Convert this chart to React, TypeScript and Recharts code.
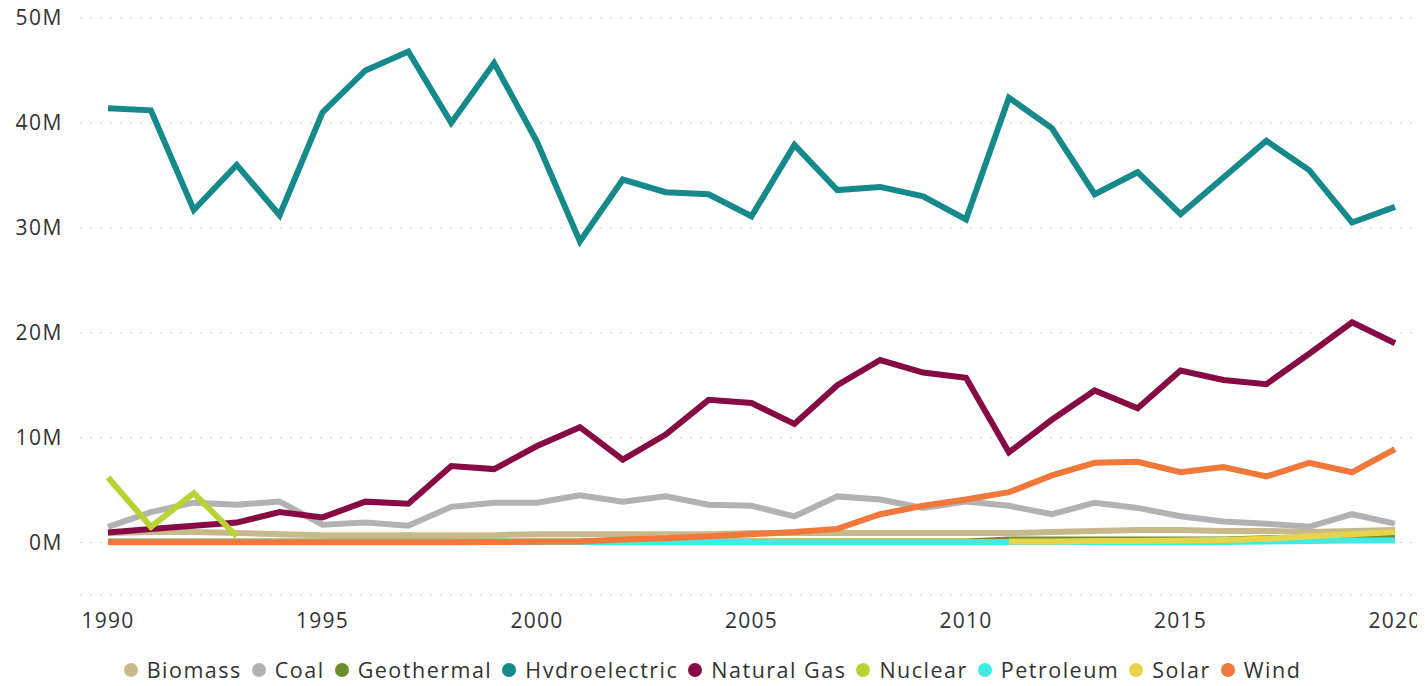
import { LineChart, Line, XAxis, YAxis, CartesianGrid, Legend } from 'recharts';

const years = [
  1990, 1991, 1992, 1993, 1994, 1995, 1996, 1997, 1998, 1999,
  2000, 2001, 2002, 2003, 2004, 2005, 2006, 2007, 2008, 2009,
  2010, 2011, 2012, 2013, 2014, 2015, 2016, 2017, 2018, 2019, 2020,
];

// values in millions
const biomass = [0.9, 1.0, 1.0, 0.9, 0.8, 0.7, 0.7, 0.7, 0.7, 0.7, 0.8, 0.8, 0.8, 0.8, 0.8, 0.9, 0.9, 0.9, 0.9, 0.9, 0.9, 0.9, 1.0, 1.1, 1.2, 1.2, 1.1, 1.1, 1.0, 1.1, 1.2];
const coal = [1.5, 2.9, 3.8, 3.6, 3.9, 1.7, 1.9, 1.6, 3.4, 3.8, 3.8, 4.5, 3.9, 4.4, 3.6, 3.5, 2.5, 4.4, 4.1, 3.3, 3.9, 3.5, 2.7, 3.8, 3.3, 2.5, 2.0, 1.8, 1.5, 2.7, 1.8];
const geothermal = [0.1, 0.1, 0.1, 0.1, 0.1, 0.1, 0.1, 0.1, 0.1, 0.1, 0.1, 0.1, 0.1, 0.1, 0.1, 0.1, 0.1, 0.1, 0.1, 0.1, 0.1, 0.3, 0.3, 0.3, 0.3, 0.3, 0.3, 0.4, 0.4, 0.5, 0.5];
const hydroelectric = [41.4, 41.2, 31.7, 36.0, 31.2, 41.0, 45.0, 46.8, 40.0, 45.7, 38.2, 28.7, 34.6, 33.4, 33.2, 31.1, 37.9, 33.6, 33.9, 33.0, 30.8, 42.4, 39.5, 33.2, 35.3, 31.3, 34.8, 38.3, 35.5, 30.5, 32.0];
const naturalGas = [0.95, 1.3, 1.6, 1.9, 2.9, 2.4, 3.9, 3.7, 7.3, 7.0, 9.2, 11.0, 7.9, 10.3, 13.6, 13.3, 11.3, 15.0, 17.4, 16.2, 15.7, 8.6, 11.7, 14.5, 12.8, 16.4, 15.5, 15.1, 18.0, 21.0, 19.0];
const nuclear = [6.2, 1.5, 4.7, 0.6, null, null, null, null, null, null, null, null, null, null, null, null, null, null, null, null, null, null, null, null, null, null, null, null, null, null, null];
const petroleum = [0.05, 0.05, 0.05, 0.05, 0.05, 0.05, 0.05, 0.05, 0.05, 0.05, 0.05, 0.05, 0.05, 0.05, 0.05, 0.05, 0.05, 0.05, 0.05, 0.05, 0.05, 0.05, 0.05, 0.05, 0.05, 0.05, 0.05, 0.1, 0.15, 0.2, 0.2];
const solar = [null, null, null, null, null, null, null, null, null, null, null, null, null, null, null, null, null, null, null, null, null, 0.1, 0.1, 0.15, 0.15, 0.2, 0.25, 0.35, 0.6, 0.8, 1.0];
const wind = [0.02, 0.02, 0.02, 0.02, 0.02, 0.02, 0.02, 0.02, 0.03, 0.05, 0.08, 0.1, 0.3, 0.4, 0.6, 0.8, 1.0, 1.3, 2.7, 3.5, 4.1, 4.8, 6.4, 7.6, 7.7, 6.7, 7.2, 6.3, 7.6, 6.7, 8.9];

const yTicks = [0, 10, 20, 30, 40, 50];
const xTicks = [1990, 1995, 2000, 2005, 2010, 2015, 2020];

const series = [
  { key: 'Biomass', values: biomass, color: '#C8B98C' },
  { key: 'Coal', values: coal, color: '#B3B2B2' },
  { key: 'Geothermal', values: geothermal, color: '#6C8E2B' },
  { key: 'Hydroelectric', values: hydroelectric, color: '#16898A' },
  { key: 'Natural Gas', values: naturalGas, color: '#860B44' },
  { key: 'Nuclear', values: nuclear, color: '#BAD334' },
  { key: 'Petroleum', values: petroleum, color: '#3FEBE4' },
  { key: 'Solar', values: solar, color: '#E6D54A' },
  { key: 'Wind', values: wind, color: '#F0783A' },
];

const data = years.map((year, i) => {
  const row: Record<string, number | null> = { year };
  series.forEach((s) => { row[s.key] = s.values[i]; });
  return row;
});

const font = '"Open Sans", "Segoe UI", sans-serif';

function LegendBox() {
  return (
    <div style={{ display: 'flex', justifyContent: 'center', paddingTop: 14, paddingLeft: 20, fontFamily: font, fontSize: 21.5, letterSpacing: 1.5, color: '#333', lineHeight: '22px' }}>
      {series.map((s) => (
        <div key={s.key} style={{ display: 'flex', alignItems: 'center', marginRight: 10 }}>
          <span style={{ width: 14, height: 14, borderRadius: 7, background: s.color, marginRight: 9, display: 'inline-block' }} />
          <span>{s.key}</span>
        </div>
      ))}
    </div>
  );
}

export default function App() {
  return (
    <div style={{ margin: -8 }}>
      <LineChart width={1425} height={686} data={data} margin={{ top: 18, right: 10, left: 0, bottom: 0 }}>
        <CartesianGrid vertical={false} stroke="#d4d4d4" strokeDasharray="2 8" />
        <XAxis
          dataKey="year"
          type="number"
          domain={[1990, 2020]}
          ticks={xTicks}
          axisLine={false}
          tickLine={false}
          tickSize={0}
          tickMargin={18}
          height={50}
          padding={{ left: 28, right: 20 }}
          tick={{ fill: '#333', fontSize: 21, fontFamily: font, letterSpacing: 1.2 }}
        />
        <YAxis
          domain={[-5, 50]}
          ticks={yTicks}
          allowDataOverflow
          axisLine={false}
          tickLine={false}
          tickSize={0}
          tickMargin={17}
          width={80}
          tickFormatter={(v) => `${v}M`}
          tick={{ fill: '#333', fontSize: 21, fontFamily: font, letterSpacing: 1.5 }}
        />
        <Legend verticalAlign="bottom" height={41} content={() => <LegendBox />} />
        {series.map((s) => (
          <Line
            key={s.key}
            type="linear"
            dataKey={s.key}
            stroke={s.color}
            strokeWidth={6}
            dot={false}
            activeDot={false}
            isAnimationActive={false}
          />
        ))}
      </LineChart>
    </div>
  );
}
